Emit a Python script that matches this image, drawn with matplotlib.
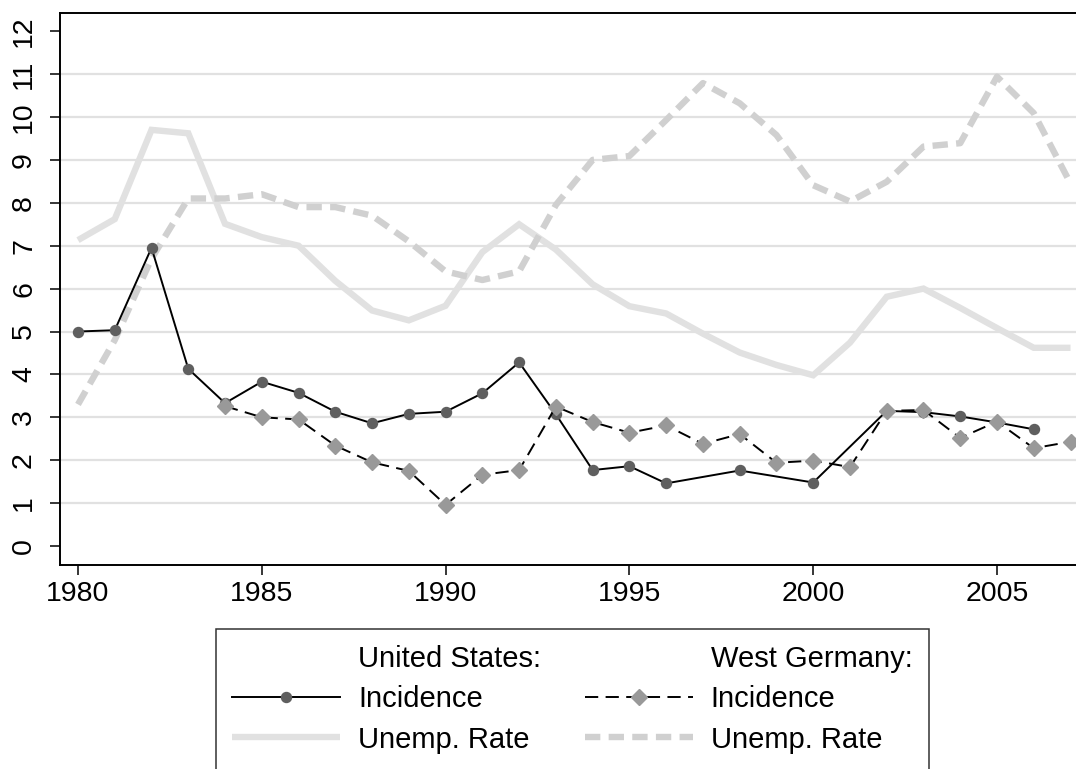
import numpy as np
import matplotlib
matplotlib.use("Agg")
import matplotlib.pyplot as plt
from matplotlib.lines import Line2D

plt.rcParams["font.family"] = ["Liberation Sans", "DejaVu Sans"]

# US incidence (1997, 1999, 2001 missing)
us_inc_years = [1980, 1981, 1982, 1983, 1984, 1985, 1986, 1987, 1988, 1989,
                1990, 1991, 1992, 1993, 1994, 1995, 1996, 1998, 2000, 2002,
                2003, 2004, 2005, 2006]
us_inc = [5.00, 5.03, 6.95, 4.13, 3.33, 3.83, 3.57, 3.13, 2.86, 3.08,
          3.13, 3.56, 4.28, 3.07, 1.77, 1.86, 1.46, 1.76, 1.48, 3.15,
          3.12, 3.02, 2.88, 2.72]

# West Germany incidence
wg_inc_years = list(range(1984, 2008))
wg_inc = [3.26, 3.00, 2.95, 2.34, 1.95, 1.75, 0.96, 1.66, 1.77, 3.25,
          2.89, 2.64, 2.81, 2.38, 2.61, 1.94, 1.99, 1.84, 3.15, 3.17,
          2.52, 2.90, 2.28, 2.43]

# unemployment rates
un_years = list(range(1980, 2008))
us_unemp = [7.13, 7.62, 9.70, 9.62, 7.51, 7.20, 7.00, 6.18, 5.49, 5.26,
            5.60, 6.85, 7.50, 6.91, 6.10, 5.59, 5.42, 4.95, 4.51, 4.22,
            3.98, 4.74, 5.81, 6.00, 5.55, 5.08, 4.62, 4.62]
wg_unemp = [3.30, 4.80, 6.70, 8.10, 8.10, 8.20, 7.90, 7.90, 7.70, 7.10,
            6.40, 6.20, 6.40, 7.95, 9.00, 9.09, 9.93, 10.79, 10.32, 9.58,
            8.41, 8.03, 8.49, 9.31, 9.39, 10.94, 10.09, 8.45]

y_ticks = list(range(0, 13))
x_ticks = [1980, 1985, 1990, 1995, 2000, 2005]

fig = plt.figure(figsize=(10.76, 7.69), dpi=100)
ax = fig.add_axes([60 / 1076, (769 - 565) / 769, (1076 - 60) / 1076, (565 - 13) / 769])

for y in y_ticks[1:-1]:
    ax.axhline(y, color="#e1e1e1", lw=1.6, zorder=0)

ax.plot(un_years, us_unemp, color="#e1e1e1", lw=4.6, solid_capstyle="butt",
        solid_joinstyle="miter", zorder=1)
ax.plot(un_years, wg_unemp, color="#d0d0d0", lw=4.6, dashes=(2.4, 1.3),
        dash_capstyle="butt", zorder=1)

ax.plot(us_inc_years, us_inc, color="black", lw=1.4, marker="o",
        markersize=7.2, markerfacecolor="#5f5f5f", markeredgecolor="#5f5f5f",
        zorder=3)
ax.plot(wg_inc_years, wg_inc, color="black", lw=1.4, dashes=(6.8, 3.8),
        marker="D", markersize=8.2, markerfacecolor="#999999",
        markeredgecolor="#999999", zorder=3)

ax.set_xlim(1980 - 18 / 36.76, 1980 + (1076 - 78) / 36.76)
ax.set_ylim((546 - 565) / 42.9, (546 - 13) / 42.9)
ax.set_xticks(x_ticks)
ax.set_yticks(y_ticks)
ax.tick_params(axis="both", labelsize=20.5, width=1.1, length=7.5, color="black")
ax.tick_params(axis="x", pad=4)
ax.tick_params(axis="y", pad=9)
for lab in ax.get_yticklabels():
    lab.set_rotation(90)
    lab.set_va("center")

for side in ["left", "top", "bottom"]:
    ax.spines[side].set_linewidth(1.4)
ax.spines["right"].set_visible(False)

blank = Line2D([], [], color="none")
h_us_inc = Line2D([], [], color="black", lw=1.4, marker="o", markersize=7.2,
                  markerfacecolor="#5f5f5f", markeredgecolor="#5f5f5f")
h_us_un = Line2D([], [], color="#e1e1e1", lw=4.6, solid_capstyle="butt")
h_wg_inc = Line2D([], [], color="black", lw=1.4, dashes=(6.8, 3.8), marker="D",
                  markersize=8.2, markerfacecolor="#999999", markeredgecolor="#999999")
h_wg_un = Line2D([], [], color="#d0d0d0", lw=4.6, dashes=(2.4, 1.3),
                 dash_capstyle="butt")

leg = fig.legend(
    handles=[blank, h_us_inc, h_us_un, blank, h_wg_inc, h_wg_un],
    labels=["United States:", "Incidence", "Unemp. Rate",
            "West Germany:", "Incidence", "Unemp. Rate"],
    ncol=2,
    loc="upper left",
    bbox_to_anchor=(216 / 1076, 1 - 629 / 769),
    fontsize=21,
    frameon=True,
    fancybox=False,
    edgecolor="black",
    handlelength=3.7,
    handletextpad=0.62,
    columnspacing=1.5,
    labelspacing=0.42,
    borderpad=0.55,
    borderaxespad=0,
)
leg.get_frame().set_linewidth(1.1)

plt.savefig("out.png", dpi=100)
